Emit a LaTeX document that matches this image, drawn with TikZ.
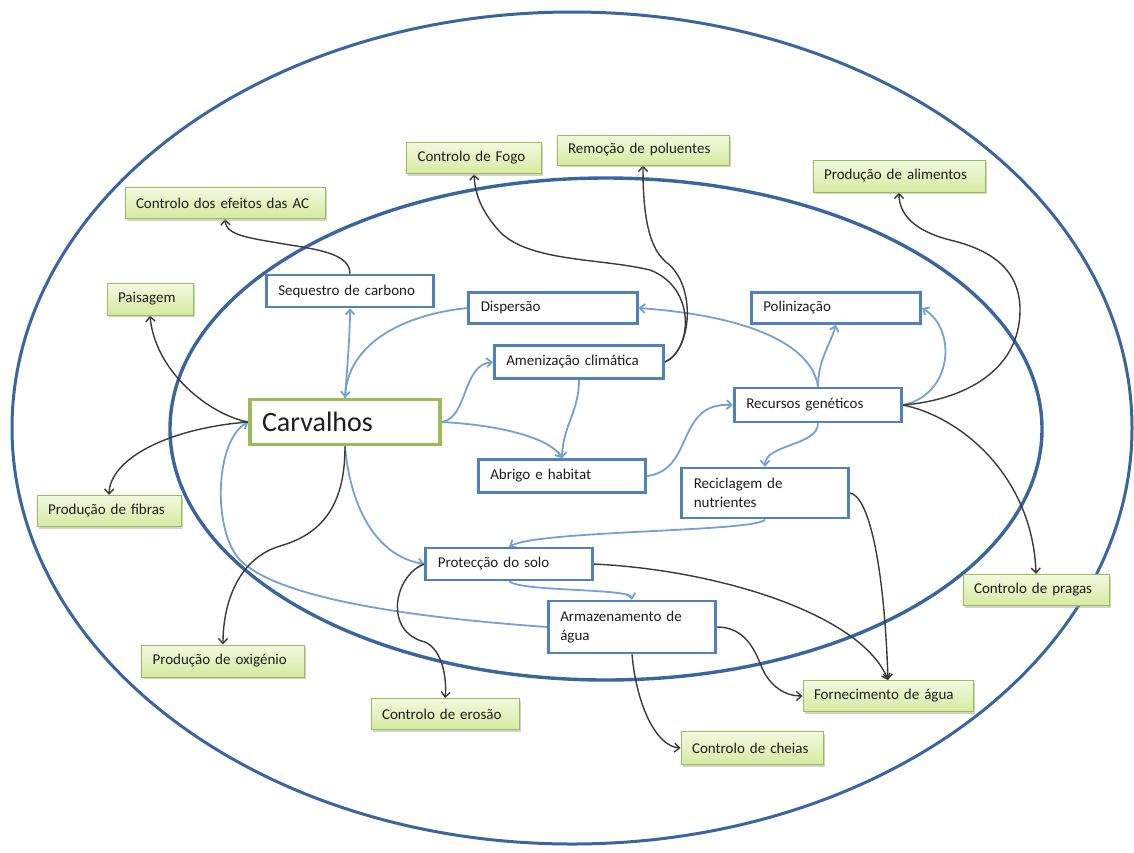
\documentclass[tikz,border=0pt]{standalone}
\usepackage{fontspec}
\setmainfont{Carlito}
\usetikzlibrary{arrows.meta,shadows}

\definecolor{ringblue}{RGB}{58,102,160}
\definecolor{boxblue}{RGB}{79,129,189}
\definecolor{linkblue}{RGB}{118,160,206}
\definecolor{linkdark}{RGB}{58,58,58}
\definecolor{leafline}{RGB}{155,187,89}
\definecolor{leaftop}{RGB}{242,249,224}
\definecolor{leafbot}{RGB}{214,234,160}
\definecolor{inkcol}{RGB}{30,30,30}

\pgfdeclarelayer{back}
\pgfsetlayers{back,main}

\tikzset{
  txt/.style={font=\fontsize{15}{18.5}\selectfont, text=inkcol},
  svc/.style={txt, draw=leafline, line width=1pt, top color=leaftop, bottom color=leafbot,
    align=left, inner xsep=11pt, inner ysep=0pt, text width=#1, minimum height=31pt,
    drop shadow={shadow xshift=1.5pt, shadow yshift=-2pt, fill=black!35, opacity=0.5}},
  eco/.style={txt, draw=boxblue, line width=2.6pt, fill=white, align=left,
    inner xsep=12pt, inner ysep=0pt, text width=#1, minimum height=32pt},
  dk/.style={draw=linkdark, line width=1.4pt, -{Straight Barb[length=5pt,width=9pt]}},
  lb/.style={draw=linkblue, line width=1.8pt, -{Straight Barb[length=5pt,width=9pt]}},
  ring/.style={draw=ringblue, line width=3pt}
}

\begin{document}
\begin{tikzpicture}[x=1pt,y=-1pt]
\begin{pgfonlayer}{back}
  \fill[white] (0,0) rectangle (1134,852);
\end{pgfonlayer}
\useasboundingbox (0,0) rectangle (1134,852);

% central species
\node[txt, draw=leafline, line width=3.5pt, fill=white, align=left, inner xsep=12pt,
  text width=166pt, minimum height=45pt, font=\fontsize{28}{30}\selectfont]
  (carv) at (345,422) {Carvalhos};

% ecosystem functions
\node[eco=143.5pt] (seq) at (350,291) {Sequestro de carbono};
\node[eco=144.5pt, minimum height=31pt] (disp) at (553,308) {Dispersão};
\node[eco=145.5pt, minimum height=31pt] (pol) at (836,308) {Polinização};
\node[eco=145.5pt, minimum height=33pt] (amen) at (579,362) {Amenização climática};
\node[eco=143.5pt, minimum height=33pt] (abr) at (562,476) {Abrigo e habitat};
\node[eco=143.5pt, minimum height=34pt] (rec) at (818,405) {Recursos genéticos};
\node[eco=142.5pt, minimum height=50pt] (recic) at (765,493) {Reciclagem de\\nutrientes};
\node[eco=142.5pt] (prot) at (509,564) {Protecção do solo};
\node[eco=143.5pt, minimum height=52pt] (arm) at (632,627) {Armazenamento de\\água};

% services
\node[svc=178pt] (efe) at (225,203) {Controlo dos efeitos das AC};
\node[svc=64pt, minimum height=32pt] (pai) at (150,299) {Paisagem};
\node[svc=113pt] (fogo) at (474,158) {Controlo de Fogo};
\node[svc=150pt, minimum height=30pt] (polu) at (643,150) {Remoção de poluentes};
\node[svc=150pt, minimum height=32pt] (alim) at (899,176) {Produção de alimentos};
\node[svc=122pt] (fib) at (109,511) {Produção de fibras};
\node[svc=141pt, minimum height=32pt] (oxi) at (223,661) {Produção de oxigénio};
\node[svc=126pt] (eros) at (445,714) {Controlo de erosão};
\node[svc=120pt, minimum height=33pt] (cheias) at (752,748) {Controlo de cheias};
\node[svc=148pt] (forn) at (888,696) {Fornecimento de água};
\node[svc=124pt] (pragas) at (1036,590) {Controlo de pragas};

\begin{pgfonlayer}{back}
  % rings
  \draw[ring] (572,428) ellipse [x radius=560pt, y radius=416pt];
  \draw[ring, line width=3.4pt] (606,429) ellipse [x radius=436pt, y radius=251pt];

  % links between functions
  \draw[lb] (carv.north) .. controls (347,370) and (350,335) .. (seq.south);
  \draw[lb] (disp.west) .. controls (400,315) and (348,345) .. (carv.north);
  \draw[lb] (carv.east) .. controls (468,418) and (462,365) .. (amen.west);
  \draw[lb] (carv.east) .. controls (500,425) and (550,438) .. (abr.north);
  \draw[lb] (amen.south) .. controls (579,412) and (563,425) .. (abr.north);
  \draw[lb] (abr.east) .. controls (695,470) and (675,402) .. (rec.west);
  \draw[lb] (rec.north) .. controls (818,360) and (830,345) .. (pol.south);
  \draw[lb] (rec.east) .. controls (952,395) and (958,330) .. (pol.east);
  \draw[lb] (rec.north) .. controls (812,345) and (750,316) .. (disp.east);
  \draw[lb] (rec.south) .. controls (818,446) and (765,444) .. (recic.north);
  \draw[lb] (recic.south) .. controls (760,532) and (540,530) .. (prot.north);
  \draw[lb] (carv.south) .. controls (350,505) and (375,556) .. (prot.west);
  \draw[lb] (prot.south) .. controls (522,592) and (630,588) .. (arm.north);
  \draw[lb] (arm.west) .. controls (420,618) and (280,600) .. (240,560)
                       .. controls (212,530) and (215,440) .. (carv.west);

  % links to services
  \draw[dk] (seq.north) .. controls (350,255) and (322,250) .. (290,245)
                        .. controls (250,238) and (226,236) .. (efe.south);
  \draw[dk] (carv.west) .. controls (210,415) and (155,372) .. (pai.south);
  \draw[dk] (carv.west) .. controls (170,428) and (110,458) .. (fib.north);
  \draw[dk] (carv.south) .. controls (345,495) and (330,532) .. (280,546)
                         .. controls (240,558) and (223,600) .. (oxi.north);
  \draw[dk] (amen.east) .. controls (692,350) and (697,288) .. (650,270)
                        .. controls (600,258) and (530,262) .. (500,232)
                        .. controls (482,212) and (475,195) .. (fogo.south);
  \draw[dk] (amen.east) .. controls (692,350) and (697,285) .. (666,262)
                        .. controls (645,245) and (643,200) .. (polu.south);
  \draw[dk] (rec.east) .. controls (965,400) and (1020,370) .. (1020,310)
                       .. controls (1020,270) and (992,250) .. (950,240)
                       .. controls (915,231) and (899,215) .. (alim.south);
  \draw[dk] (rec.east) .. controls (965,418) and (1033,480) .. (pragas.north);
  \draw[dk] (recic.east) .. controls (868,495) and (884,560) .. (forn.north);
  \draw[dk] (prot.east) .. controls (720,570) and (862,615) .. (forn.north);
  \draw[dk] (prot.west) .. controls (394,575) and (383,632) .. (425,642)
                        .. controls (443,650) and (447,680) .. (eros.north);
  \draw[dk] (arm.east) .. controls (745,627) and (755,650) .. (762,668)
                       .. controls (770,686) and (785,696) .. (forn.west);
  \draw[dk] (arm.south) .. controls (636,702) and (655,746) .. (cheias.west);
\end{pgfonlayer}
\end{tikzpicture}
\end{document}
